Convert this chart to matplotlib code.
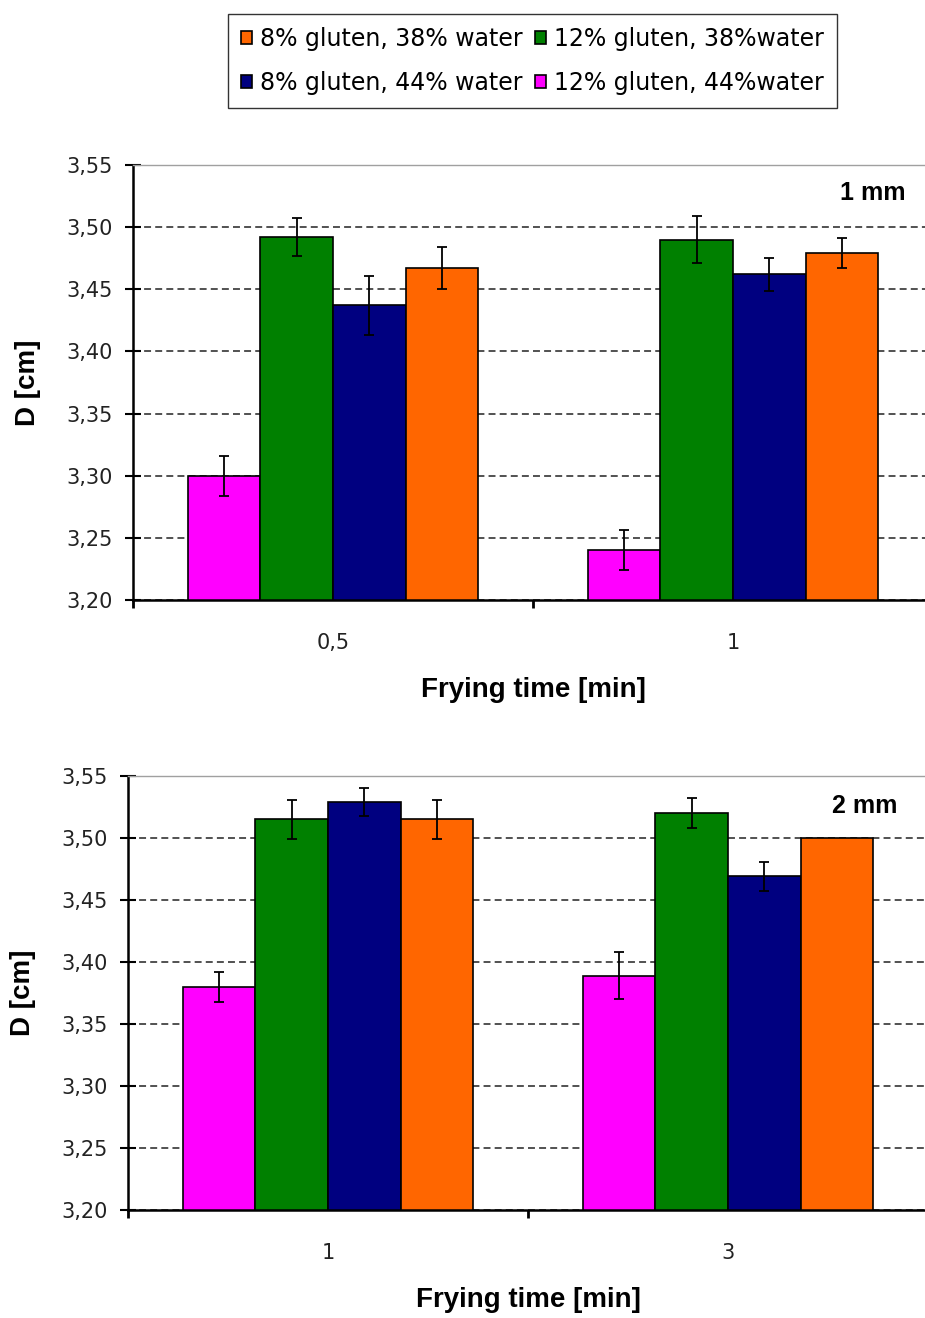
import numpy as np
import matplotlib
matplotlib.use("Agg")
import matplotlib.pyplot as plt

plt.rcParams["font.family"] = ["DejaVu Sans"]
plt.rcParams["lines.scale_dashes"] = False

# Dados
series_labels = ["12% gluten, 44%water", "12% gluten, 38%water",
                 "8% gluten, 44% water", "8% gluten, 38% water"]
series_colors = ["#FF00FF", "#008000", "#000080", "#FF6600"]

times_1mm = ["0,5", "1"]
d_1mm_12g44w = [3.300, 3.240]
d_1mm_12g38w = [3.492, 3.490]
d_1mm_8g44w = [3.437, 3.462]
d_1mm_8g38w = [3.467, 3.479]
err_1mm_12g44w = [0.016, 0.016]
err_1mm_12g38w = [0.015, 0.019]
err_1mm_8g44w = [0.024, 0.013]
err_1mm_8g38w = [0.017, 0.012]

times_2mm = ["1", "3"]
d_2mm_12g44w = [3.380, 3.389]
d_2mm_12g38w = [3.515, 3.520]
d_2mm_8g44w = [3.529, 3.469]
d_2mm_8g38w = [3.515, 3.500]
err_2mm_12g44w = [0.012, 0.019]
err_2mm_12g38w = [0.016, 0.012]
err_2mm_8g44w = [0.011, 0.012]
err_2mm_8g38w = [0.016, 0.0]

y_ticks = [3.20, 3.25, 3.30, 3.35, 3.40, 3.45, 3.50, 3.55]
y_tick_labels = ["3,20", "3,25", "3,30", "3,35", "3,40", "3,45", "3,50", "3,55"]

W, H = 925, 1318
fig = plt.figure(figsize=(W / 100, H / 100), dpi=100)


def draw_panel(rect, categories, values, errors, tag, tag_xy):
    ax = fig.add_axes(rect)
    x = np.arange(len(categories))
    width = 1 / 5.5
    containers = []
    for i, (vals, errs, col) in enumerate(zip(values, errors, series_colors)):
        pos = x + (i - 1.5) * width
        bars = ax.bar(pos, vals, width, color=col, edgecolor="black",
                      linewidth=1.2, zorder=2, label=series_labels[i])
        containers.append(bars)
        errs = np.array(errs)
        mask = errs > 0
        ax.errorbar(pos[mask], np.array(vals)[mask], yerr=errs[mask], fmt="none",
                    ecolor="black", elinewidth=1.3, capsize=3.3, capthick=1.3,
                    zorder=3)

    ax.set_xlim(-0.5, len(categories) - 0.5)
    ax.set_ylim(3.20, 3.55)
    ax.set_yticks(y_ticks)
    ax.set_yticklabels(y_tick_labels)
    ax.tick_params(axis="y", direction="inout", length=11, width=1.5,
                   labelsize=15, labelcolor="#222222", pad=9)

    # traços do eixo x nos limites das categorias, rótulos no centro
    ax.set_xticks(np.arange(len(categories) + 1) - 0.5)
    ax.set_xticklabels([])
    ax.tick_params(axis="x", which="major", direction="out", length=6, width=2)
    ax.set_xticks(x, minor=True)
    ax.set_xticklabels(categories, minor=True)
    ax.tick_params(axis="x", which="minor", length=0, labelsize=15,
                   labelcolor="#222222", pad=24)

    ax.yaxis.grid(True, linestyle=(0, (5, 3)), color="#333333", linewidth=1.2)
    ax.set_axisbelow(True)

    for side in ["left", "bottom"]:
        ax.spines[side].set_linewidth(1.8)
        ax.spines[side].set_color("black")
    ax.spines["top"].set_color("#a0a0a0")
    ax.spines["top"].set_linewidth(1.0)
    ax.spines["right"].set_visible(False)

    ax.set_xlabel("Frying time [min]", family="Liberation Sans",
                  fontweight="bold", fontsize=20)
    ax.xaxis.label.set_va("center")
    ax.xaxis.set_label_coords(0.5, -0.207)
    ax.set_ylabel("D [cm]", family="Liberation Sans", fontweight="bold",
                  fontsize=20)
    ax.yaxis.label.set_va("center")
    ax.yaxis.set_label_coords(-0.131, 0.5)

    ax.text(tag_xy[0], tag_xy[1], tag, transform=ax.transAxes,
            family="Liberation Sans", fontweight="bold", fontsize=18,
            ha="center", va="center")
    return ax, containers


ax1, bars1 = draw_panel(
    [133 / W, 1 - 600 / H, 800 / W, 435 / H], times_1mm,
    [d_1mm_12g44w, d_1mm_12g38w, d_1mm_8g44w, d_1mm_8g38w],
    [err_1mm_12g44w, err_1mm_12g38w, err_1mm_8g44w, err_1mm_8g38w],
    "1 mm", (0.925, 0.936))

ax2, bars2 = draw_panel(
    [128 / W, 1 - 1210 / H, 800 / W, 434 / H], times_2mm,
    [d_2mm_12g44w, d_2mm_12g38w, d_2mm_8g44w, d_2mm_8g38w],
    [err_2mm_12g44w, err_2mm_12g38w, err_2mm_8g44w, err_2mm_8g38w],
    "2 mm", (0.921, 0.931))

# legenda: coluna 1 = laranja, azul; coluna 2 = verde, magenta
order = [3, 2, 1, 0]
leg = fig.legend([bars1[i] for i in order], [series_labels[i] for i in order],
                 ncol=2, loc="center", mode="expand",
                 bbox_to_anchor=(228 / W, 1 - 108 / H, 609 / W, 94 / H),
                 fontsize=17, frameon=True, fancybox=False, edgecolor="black",
                 handlelength=0.45, handleheight=0.45, handletextpad=0.35,
                 labelspacing=0.85, borderpad=0.55, borderaxespad=0,
                 columnspacing=0.6)
leg.get_frame().set_linewidth(1.0)

fig.savefig("out.png", dpi=100)
